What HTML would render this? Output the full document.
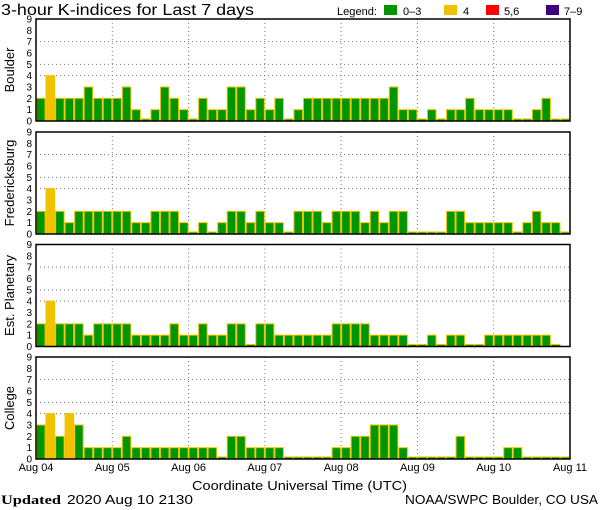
<!DOCTYPE html>
<html><head><meta charset="utf-8"><style>
body{margin:0;background:#fff;width:600px;height:510px;overflow:hidden}
svg{display:block;font-family:"Liberation Sans",sans-serif}
</style></head><body>
<svg id="chart" width="600" height="510" viewBox="0 0 600 510">
<text x="1" y="15" font-size="16" textLength="253" lengthAdjust="spacingAndGlyphs">3-hour K-indices for Last 7 days</text>
<g font-size="11">
<text x="337" y="15" textLength="40" lengthAdjust="spacingAndGlyphs">Legend:</text>
<rect x="384" y="5" width="13" height="10" fill="#009600"/>
<text x="403" y="15">0–3</text>
<rect x="444" y="5" width="13" height="10" fill="#f2c200"/>
<text x="463" y="15">4</text>
<rect x="486" y="5" width="13" height="10" fill="#ff0000"/>
<text x="504" y="15">5,6</text>
<rect x="546" y="5" width="13" height="10" fill="#3c0080"/>
<text x="564" y="15">7–9</text>
</g>
<text x="192" y="490" font-size="13" textLength="215" lengthAdjust="spacingAndGlyphs">Coordinate Universal Time (UTC)</text>
<text x="1" y="504" font-size="13" font-family="Liberation Serif,serif" font-weight="bold" textLength="60" lengthAdjust="spacingAndGlyphs">Updated</text>
<text x="67" y="504" font-size="13" textLength="126" lengthAdjust="spacingAndGlyphs">2020 Aug 10 2130</text>
<text x="405" y="504" font-size="13" textLength="193" lengthAdjust="spacingAndGlyphs">NOAA/SWPC Boulder, CO USA</text>
</svg>
<script>
const stations = ["Boulder","Fredericksburg","Est. Planetary","College"];
const dayLabels = ["Aug 04","Aug 05","Aug 06","Aug 07","Aug 08","Aug 09","Aug 10","Aug 11"];
const yTicks = [0,1,2,3,4,5,6,7,8,9];
const boulder = [2,4,2,2,2,3,2,2,2,3,1,0,1,3,2,1,0,2,1,1,3,3,1,2,1,2,0,1,2,2,2,2,2,2,2,2,2,3,1,1,0,1,0,1,1,2,1,1,1,1,0,0,1,2,0,0];
const fredericksburg = [2,4,2,1,2,2,2,2,2,2,1,1,2,2,2,1,0,1,0,1,2,2,1,2,1,1,0,2,2,2,1,2,2,2,1,2,1,2,2,0,0,0,0,2,2,1,1,1,1,1,0,1,2,1,1,0];
const planetary = [2,4,2,2,2,1,2,2,2,2,1,1,1,1,2,1,1,2,1,1,2,2,0,2,2,1,1,1,1,1,1,2,2,2,2,1,1,1,1,0,0,1,0,1,1,0,0,1,1,1,1,1,1,1,0,null];
const college = [3,4,2,4,3,1,1,1,1,2,1,1,1,1,1,1,1,1,1,0,2,2,1,1,1,1,0,0,0,0,0,1,1,2,2,3,3,3,1,0,0,0,0,0,2,0,0,0,0,1,1,0,0,0,0,0];
const series = [boulder,fredericksburg,planetary,college];

const svg = document.getElementById('chart');
const NS = 'http://www.w3.org/2000/svg';
const X0 = 36, X1 = 570, PH = 102, tops = [19,132,244.5,357];
const nBars = 56;
const bw = (X1-X0)/nBars;
const xBar = i => X0 + i*bw;
const xDay = d => X0 + d*(X1-X0)/7;
function mk(tag, attrs, parent){const e=document.createElementNS(NS,tag);for(const k in attrs)e.setAttribute(k,attrs[k]);(parent||svg).appendChild(e);return e;}
function color(v){return v<=3?'#009600':v===4?'#f2c200':v<=6?'#ff0000':'#3c0080';}

series.forEach((data,p)=>{
  const top = tops[p], base = top+PH;
  const yv = v => base - v*PH/9;
  const g = mk('g',{});
  
  
  [4,5,7].forEach(v=>{
    const l = mk('line',{x1:X0,x2:X1,y1:yv(v),y2:yv(v),stroke:'#777','stroke-dasharray':'1,3','stroke-width':1},g);
    
    
  });
  for(let d=1; d<7; d++){
    const l = mk('line',{x1:xDay(d),x2:xDay(d),y1:top,y2:base,stroke:'#777','stroke-dasharray':'1,3','stroke-width':1},g);
    
    
  }
  data.forEach((v,i)=>{
    if(v===null) return;
    const h = v===0 ? 2 : v*PH/9;
    const r = mk('rect',{x:xBar(i)+0.5,y:base-h,width:bw-1,height:h,fill:color(v),stroke:'#f2c200','stroke-width':1},g);
    
    
  });
  const f = mk('path',{d:`M${X0},${base} V${top} H${X1} V${base} Z`,fill:'none',stroke:'#000','stroke-width':1.5},g);
  
  
  yTicks.forEach(v=>{
    const t = mk('text',{x:32,y:yv(v)+3.5,'font-size':10,'text-anchor':'end'},g);
    t.textContent = v;
    
    
  });
  const yt = mk('text',{x:0,y:0,'font-size':13,'text-anchor':'middle',transform:`translate(14,${top+PH/2}) rotate(-90)`},g);
  yt.textContent = stations[p];
  
  
});
dayLabels.forEach((s,d)=>{
  const t = mk('text',{x:xDay(d),y:471,'font-size':11,'text-anchor':'middle'});
  t.textContent = s;
  
  
});
</script>
</body></html>
